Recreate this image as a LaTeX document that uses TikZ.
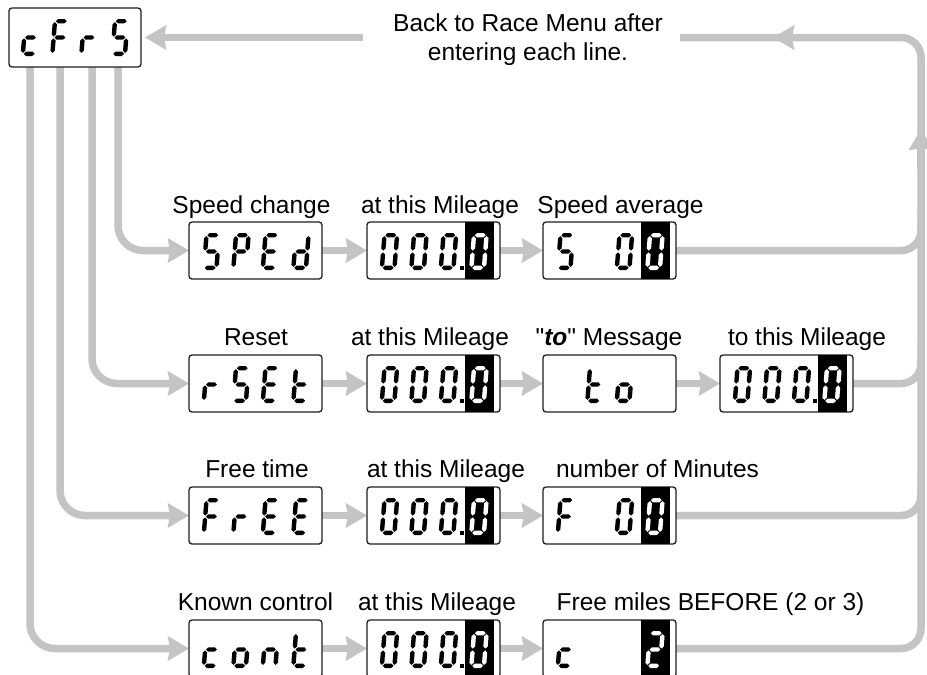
\documentclass[tikz,border=0pt]{standalone}
\usepackage{fontspec}
\setmainfont{Liberation Sans}[Ligatures=TeXOff]
\usetikzlibrary{arrows.meta,backgrounds}
\definecolor{ln}{RGB}{196,196,196}
\definecolor{bd}{RGB}{30,30,30}
% seven-segment segments (local frame: y up, digit 17 x 37)
\def\ssga#1{\fill[#1] (3.1,34.8)--(5.3,37)--(11.7,37)--(13.9,34.8)--(11.7,32.6)--(5.3,32.6)--cycle;}
\def\ssgg#1{\fill[#1] (3.1,18.5)--(5.3,20.7)--(11.7,20.7)--(13.9,18.5)--(11.7,16.3)--(5.3,16.3)--cycle;}
\def\ssgd#1{\fill[#1] (3.1,2.2)--(5.3,4.4)--(11.7,4.4)--(13.9,2.2)--(11.7,0)--(5.3,0)--cycle;}
\def\ssgf#1{\fill[#1] (2.2,19.4)--(4.4,21.6)--(4.4,31.7)--(2.2,33.9)--(0,31.7)--(0,21.6)--cycle;}
\def\ssgb#1{\fill[#1] (14.8,19.4)--(17,21.6)--(17,31.7)--(14.8,33.9)--(12.6,31.7)--(12.6,21.6)--cycle;}
\def\ssge#1{\fill[#1] (2.2,3.1)--(4.4,5.3)--(4.4,15.4)--(2.2,17.6)--(0,15.4)--(0,5.3)--cycle;}
\def\ssgc#1{\fill[#1] (14.8,3.1)--(17,5.3)--(17,15.4)--(14.8,17.6)--(12.6,15.4)--(12.6,5.3)--cycle;}
\def\chc{g,e,d}
\def\chF{a,f,g,e}
\def\chr{g,e}
\def\chS{a,f,g,c,d}
\def\chP{a,b,f,g,e}
\def\chE{a,f,g,e,d}
\def\chd{b,c,d,e,g}
\def\chO{a,b,c,d,e,f}
\def\cht{f,e,d,g}
\def\cho{g,c,d,e}
\def\chn{g,e,c}
\def\chT{a,b,g,e,d}
\newcommand\dg[4]{\begin{scope}[shift={(#1,#2)},x=1pt,y=1pt,xslant=0.08]\foreach \s in #3 {\csname ssg\s\endcsname{#4}}\end{scope}}
\newcommand\hlbox[2]{\fill[black] (#1+98,#2) rectangle (#1+127,#2+57);}
\newcommand\dpt[2]{\fill[black] (#1+92.5,#2+43.5) rectangle (#1+96.5,#2+48);}
\newcommand\mile[2]{\dg{#1+12.5}{#2+48}{\chO}{black}\dg{#1+42}{#2+48}{\chO}{black}\dg{#1+71.5}{#2+48}{\chO}{black}\dpt{#1}{#2}\hlbox{#1}{#2}\dg{#1+102}{#2+48}{\chO}{white}}
\newcommand\word[6]{\dg{#1+12.5}{#2+48}{#3}{black}\dg{#1+42}{#2+48}{#4}{black}\dg{#1+71.5}{#2+48}{#5}{black}\dg{#1+102}{#2+48}{#6}{black}}
\tikzset{
  dbox/.style={draw=bd, line width=1.3pt, fill=white, rounded corners=3pt, minimum width=133pt, minimum height=57pt, inner sep=0pt, outer sep=0pt},
  lbl/.style={font=\fontsize{24.5pt}{29pt}\selectfont, inner sep=0pt, anchor=base, text=black},
  gl/.style={draw=ln, line width=7.5pt},
  ah/.style={-{Stealth[length=21pt,width=24pt,inset=2pt]}},
}
\begin{document}
\begin{tikzpicture}[x=1pt,y=-1pt]
\useasboundingbox (0,0) rectangle (927,675);
\begin{pgfonlayer}{background}
\fill[white] (0,0) rectangle (927,675);
\end{pgfonlayer}
% top menu box
\node[dbox, minimum width=132pt, minimum height=59pt] (cfrs) at (75,37.5) {};
\dg{9+11.5}{8+48}{\chc}{black}\dg{9+41}{8+48}{\chF}{black}\dg{9+70}{8+48}{\chr}{black}\dg{9+101}{8+48}{\chS}{black}
% row 1
\node[dbox] (r1c1) at (189+66.5,222+28.5) {};
\node[dbox] (r1c2) at (367+66.5,222+28.5) {};
\node[dbox] (r1c3) at (543+66.5,222+28.5) {};
\dg{189+12.5}{222+48}{\chS}{black}\dg{189+42}{222+48}{\chP}{black}\dg{189+71.5}{222+48}{\chE}{black}\dg{189+102}{222+48}{\chd}{black}
\mile{367}{222}
\dg{543+12.5}{222+48}{\chS}{black}\dg{543+71.5}{222+48}{\chO}{black}\hlbox{543}{222}\dg{543+102}{222+48}{\chO}{white}
% row 2
\node[dbox] (r2c1) at (189+66.5,355+28.5) {};
\node[dbox] (r2c2) at (367+66.5,355+28.5) {};
\node[dbox] (r2c3) at (543+66.5,355+28.5) {};
\node[dbox] (r2c4) at (720+66.5,355+28.5) {};
\word{189}{355}{\chr}{\chS}{\chE}{\cht}
\mile{367}{355}
\dg{543+42}{355+48}{\cht}{black}\dg{543+71.5}{355+48}{\cho}{black}
\mile{720}{355}
% row 3
\node[dbox] (r3c1) at (189+66.5,487+28.5) {};
\node[dbox] (r3c2) at (367+66.5,487+28.5) {};
\node[dbox] (r3c3) at (543+66.5,487+28.5) {};
\word{189}{487}{\chF}{\chr}{\chE}{\chE}
\mile{367}{487}
\dg{543+12.5}{487+48}{\chF}{black}\dg{543+71.5}{487+48}{\chO}{black}\hlbox{543}{487}\dg{543+102}{487+48}{\chO}{white}
% row 4
\node[dbox] (r4c1) at (189+66.5,620+28.5) {};
\node[dbox] (r4c2) at (367+66.5,620+28.5) {};
\node[dbox] (r4c3) at (543+66.5,620+28.5) {};
\word{189}{620}{\chc}{\cho}{\chn}{\cht}
\mile{367}{620}
\dg{543+12.5}{620+48}{\chc}{black}\hlbox{543}{620}\dg{543+102}{620+48}{\chT}{white}
% labels
\node[lbl] (tA) at (528,31) {Back to Race Menu after};
\node[lbl] (tB) at (528,60) {entering each line.};
\node[lbl] (l11) at (251.5,213) {Speed change};
\node[lbl] (l12) at (440,213) {at this Mileage};
\node[lbl] (l13) at (620.5,213) {Speed average};
\node[lbl] (l21) at (256,345) {Reset};
\node[lbl] (l22) at (430,345) {at this Mileage};
\node[lbl] (l23) at (609,345) {"\textbf{\textit{to}}" Message};
\node[lbl] (l24) at (807,345) {to this Mileage};
\node[lbl] (l31) at (257,477) {Free time};
\node[lbl] (l32) at (446,477) {at this Mileage};
\node[lbl] (l33) at (657.5,477) {number of Minutes};
\node[lbl] (l41) at (255.5,610) {Known control};
\node[lbl] (l42) at (437,610) {at this Mileage};
\node[lbl] (l43) at (710.5,610) {Free miles BEFORE (2 or 3)};
% connector coordinates
\coordinate (topright) at (921,37.5);
\coordinate (topend) at (680,37.5);
\coordinate (retstart) at (363,37.5);
\coordinate (upA) at (921,170);
\coordinate (upB) at (921,129);
\coordinate (lfA) at (805,37.5);
\coordinate (lfB) at (773,37.5);
\begin{pgfonlayer}{background}
% from menu down to rows
\draw[gl,ah,rounded corners=25pt] ([xshift=109pt]cfrs.south west) |- (r1c1.west);
\draw[gl,ah,rounded corners=25pt] ([xshift=83pt]cfrs.south west) |- (r2c1.west);
\draw[gl,ah,rounded corners=25pt] ([xshift=51pt]cfrs.south west) |- (r3c1.west);
\draw[gl,ah,rounded corners=25pt] ([xshift=21pt]cfrs.south west) |- (r4c1.west);
% within rows
\draw[gl,ah] (r1c1.east) -- (r1c2.west);
\draw[gl,ah] (r1c2.east) -- (r1c3.west);
\draw[gl,ah] (r2c1.east) -- (r2c2.west);
\draw[gl,ah] (r2c2.east) -- (r2c3.west);
\draw[gl,ah] (r2c3.east) -- (r2c4.west);
\draw[gl,ah] (r3c1.east) -- (r3c2.west);
\draw[gl,ah] (r3c2.east) -- (r3c3.west);
\draw[gl,ah] (r4c1.east) -- (r4c2.west);
\draw[gl,ah] (r4c2.east) -- (r4c3.west);
% return path
\draw[gl,rounded corners=20pt] (r4c3.east) -| (topright) -- (topend);
\draw[gl,rounded corners=20pt] (r1c3.east) -- (r1c3.east -| topright) -- ++(0,-40);
\draw[gl,rounded corners=20pt] (r2c4.east) -- (r2c4.east -| topright) -- ++(0,-40);
\draw[gl,rounded corners=20pt] (r3c3.east) -- (r3c3.east -| topright) -- ++(0,-40);
\draw[gl,ah] (upA) -- (upB);
\draw[gl,ah] (lfA) -- (lfB);
\draw[gl,ah,shorten >=4pt] (retstart) -- (cfrs.east);
\end{pgfonlayer}
\end{tikzpicture}
\end{document}
